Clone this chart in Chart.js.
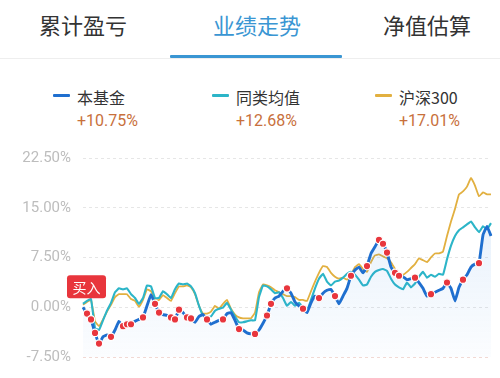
<!DOCTYPE html>
<html><head><meta charset="utf-8">
<script src="https://cdn.jsdelivr.net/npm/chart.js@4"></script>
<style>
html,body{margin:0;padding:0;background:#fff;}
body{width:500px;height:378px;position:relative;overflow:hidden;font-family:Roboto,"Noto Sans CJK SC",sans-serif;}
.tab{position:absolute;top:8px;font-size:22px;line-height:32px;color:#333;font-family:"Noto Sans CJK SC",sans-serif;transform:translateX(-50%);white-space:nowrap;}
.tab.active{color:#3a96d3;}
#uline{position:absolute;left:170px;top:55px;width:172px;height:3px;background:#3a96d3;border-radius:1px;}
#sep{position:absolute;left:0;top:58px;width:500px;height:1px;background:#eeeeee;}
.lg{position:absolute;top:86px;font-size:16px;line-height:22px;color:#333;font-family:"Noto Sans CJK SC",sans-serif;white-space:nowrap;}
.dash{position:absolute;top:94px;width:17px;height:3px;border-radius:1px;}
.val{position:absolute;top:110px;font-size:16px;line-height:22px;color:#c8703c;font-family:Roboto,sans-serif;white-space:nowrap;}
#wrap{position:absolute;left:0;top:130px;width:500px;height:248px;}
</style></head>
<body>
<div id="tabs"></div>
<div id="uline"></div>
<div id="sep"></div>
<div id="legend"></div>
<div id="wrap"><canvas id="c" width="500" height="248"></canvas></div>
<script>
const tabNames = ['累计盈亏', '业绩走势', '净值估算'];
const activeTab = 1;
const seriesNames = ['本基金', '同类均值', '沪深300'];
const finalReturns = ['+10.75%', '+12.68%', '+17.01%'];
const seriesColors = ['#1f6fcf', '#2cb5c8', '#e2b040'];
const yTicks = [-7.5, 0, 7.5, 15, 22.5];
const buyText = '买入';

const fund = [0.00,-0.95,-1.83,-3.87,-5.48,-4.46,-4.16,-4.46,-3.43,-2.12,
 -2.85,-2.56,-2.56,-2.12,-1.83,-1.53,0.22,1.90,0.51,-0.80,
 -1.10,-1.24,-1.53,-1.83,-0.37,-0.80,-1.53,-1.68,-2.26,-1.39,
 -1.10,-1.83,-2.56,-2.26,-1.97,-1.83,-0.95,-0.80,-1.97,-3.29,
 -3.43,-3.87,-4.02,-4.02,-3.43,-2.41,-1.24,0.51,1.39,1.68,
 2.41,2.85,2.12,0.80,0.22,-0.22,-0.80,0.66,1.68,1.39,
 2.12,2.56,2.70,1.68,0.51,1.68,2.85,4.75,5.62,6.06,
 5.19,6.21,8.11,9.13,10.15,9.57,8.25,6.06,5.19,4.75,
 4.60,4.16,4.31,4.46,3.73,2.85,1.68,1.97,2.26,2.56,
 2.85,3.73,2.85,0.95,3.00,4.16,4.89,6.06,6.50,6.65,
 10.90,12.20,10.75];

const peer = [0.51,0.95,1.24,-3.14,-3.43,-1.97,-0.51,0.66,2.26,2.85,
 2.70,2.85,1.97,1.39,0.51,1.39,3.29,3.14,1.39,1.39,
 2.41,1.97,1.39,2.70,3.58,3.43,3.58,3.14,2.12,0.22,
 -1.24,-1.39,-1.39,-0.51,-0.22,-0.07,0.66,-0.37,-1.39,-2.26,
 -2.26,-2.12,-1.97,-1.97,1.53,3.29,3.14,2.70,2.12,2.26,
 1.39,0.22,0.80,0.22,0.66,-0.07,-0.51,1.10,2.85,4.31,
 5.04,3.87,3.29,3.87,4.02,4.46,5.04,5.33,4.89,4.16,
 3.29,3.43,4.60,5.33,5.62,5.77,5.48,4.31,3.43,3.00,
 2.70,3.73,3.00,3.58,4.60,5.33,4.46,4.89,4.60,5.04,
 4.89,7.23,9.28,10.74,11.61,12.05,12.49,12.93,12.05,11.32,
 12.20,11.76,12.68];

const csi300 = [0.37,0.80,1.10,-2.12,-2.85,-1.83,-0.66,0.37,1.53,1.97,
 1.97,1.97,1.24,0.95,0.07,1.10,2.70,2.41,1.10,1.10,
 1.83,1.39,0.95,2.12,3.14,3.14,3.29,3.00,1.97,0.22,
 -0.95,-0.95,-0.66,0.22,-0.22,0.51,1.10,-0.22,-1.10,-1.53,
 -1.68,-1.68,-1.68,-0.80,2.26,3.43,3.29,3.00,2.56,2.26,
 1.97,1.68,1.68,1.53,1.10,1.10,0.95,2.41,3.87,5.19,
 6.21,6.06,5.19,4.60,4.31,4.46,4.16,4.89,6.06,6.50,
 5.77,5.33,6.79,7.82,7.96,7.67,7.38,6.79,5.77,4.89,
 4.89,5.33,5.92,6.50,7.38,7.09,6.79,7.52,8.11,8.11,
 8.40,10.74,12.93,14.83,17.02,17.46,18.19,19.50,18.34,16.73,
 17.31,17.02,17.01];

const tradeIdx = [1,2,3,4,7,10,11,12,15,18,19,22,23,24,26,27,31,35,39,43,46,47,51,55,59,63,67,71,74,75,76,78,79,83,87,91,95,99];

const labels = fund.map((_, i) => i);
const markers = fund.map((v, i) => tradeIdx.includes(i) ? v : null);

// header tabs
const tabX = [83, 257, 427];
const tabsEl = document.getElementById('tabs');
tabNames.forEach((t, i) => {
  const d = document.createElement('div');
  d.className = 'tab' + (i === activeTab ? ' active' : '');
  d.style.left = tabX[i] + 'px';
  d.textContent = t;
  tabsEl.appendChild(d);
});
// legend
const lgX = [53, 212, 375];
const legendEl = document.getElementById('legend');
seriesNames.forEach((n, i) => {
  const dash = document.createElement('div');
  dash.className = 'dash'; dash.style.left = lgX[i] + 'px'; dash.style.background = seriesColors[i];
  const name = document.createElement('div');
  name.className = 'lg'; name.style.left = (lgX[i] + 24) + 'px'; name.textContent = n;
  const val = document.createElement('div');
  val.className = 'val'; val.style.left = (lgX[i] + 24) + 'px'; val.textContent = finalReturns[i];
  legendEl.appendChild(dash); legendEl.appendChild(name); legendEl.appendChild(val);
});

const buyLabel = {
  id: 'buyLabel',
  afterDatasetsDraw(chart) {
    const p = chart.getDatasetMeta(1).data[0];
    if (!p) return;
    const ctx = chart.ctx;
    const w = 39, h = 23, x = p.x - 16, y = p.y - 32;
    ctx.save();
    ctx.fillStyle = '#e8353c';
    ctx.beginPath();
    if (ctx.roundRect) ctx.roundRect(x, y, w, h, 3); else ctx.rect(x, y, w, h);
    ctx.fill();
    ctx.fillStyle = '#fff';
    ctx.font = '14px "Noto Sans CJK SC"';
    ctx.textAlign = 'center';
    ctx.textBaseline = 'middle';
    ctx.fillText(buyText, x + w / 2, y + h / 2 + 1);
    ctx.restore();
  }
};

const fillFn = (c) => {
  const a = c.chart.chartArea;
  if (!a) return 'rgba(0,0,0,0)';
  const g = c.chart.ctx.createLinearGradient(0, a.top, 0, a.bottom);
  g.addColorStop(0, 'rgba(60,140,230,0.16)');
  g.addColorStop(1, 'rgba(60,140,230,0.02)');
  return g;
};

new Chart(document.getElementById('c'), {
  type: 'line',
  data: {
    labels,
    datasets: [
      { label: 'trades', data: markers, showLine: false, pointRadius: 3.7, pointHoverRadius: 3.7,
        pointBackgroundColor: '#e8363d', pointBorderColor: '#ffffff', pointBorderWidth: 1.2, order: 0 },
      { label: seriesNames[0], data: fund, borderColor: seriesColors[0], borderWidth: 2.9, pointRadius: 0,
        tension: 0.1, fill: 'start', backgroundColor: fillFn, order: 1 },
      { label: seriesNames[1], data: peer, borderColor: seriesColors[1], borderWidth: 2.1, pointRadius: 0,
        tension: 0.1, fill: false, order: 2 },
      { label: seriesNames[2], data: csi300, borderColor: seriesColors[2], borderWidth: 1.8, pointRadius: 0,
        tension: 0.1, fill: false, order: 3 }
    ]
  },
  options: {
    responsive: false,
    animation: false,
    layout: { padding: { left: 0, right: 9, top: 28, bottom: 15 } },
    plugins: { legend: { display: false }, tooltip: { enabled: false } },
    scales: {
      x: { display: false },
      y: {
        min: -7.5, max: 22.5,
        afterBuildTicks: s => { s.ticks = yTicks.map(v => ({ value: v })); },
        afterFit: s => { s.width = 83; },
        border: { display: false, dash: [3, 3] },
        grid: { drawTicks: false, lineWidth: 1,
          color: c => (c.tick && c.tick.value === -7.5) ? '#f1d9d4' : '#e6e6e6' },
        ticks: { padding: 12, color: '#bdbdbd', font: { family: 'Roboto', size: 15 },
          callback: v => Number(v).toFixed(2) + '%' }
      }
    }
  },
  plugins: [buyLabel]
});
</script>
</body></html>
